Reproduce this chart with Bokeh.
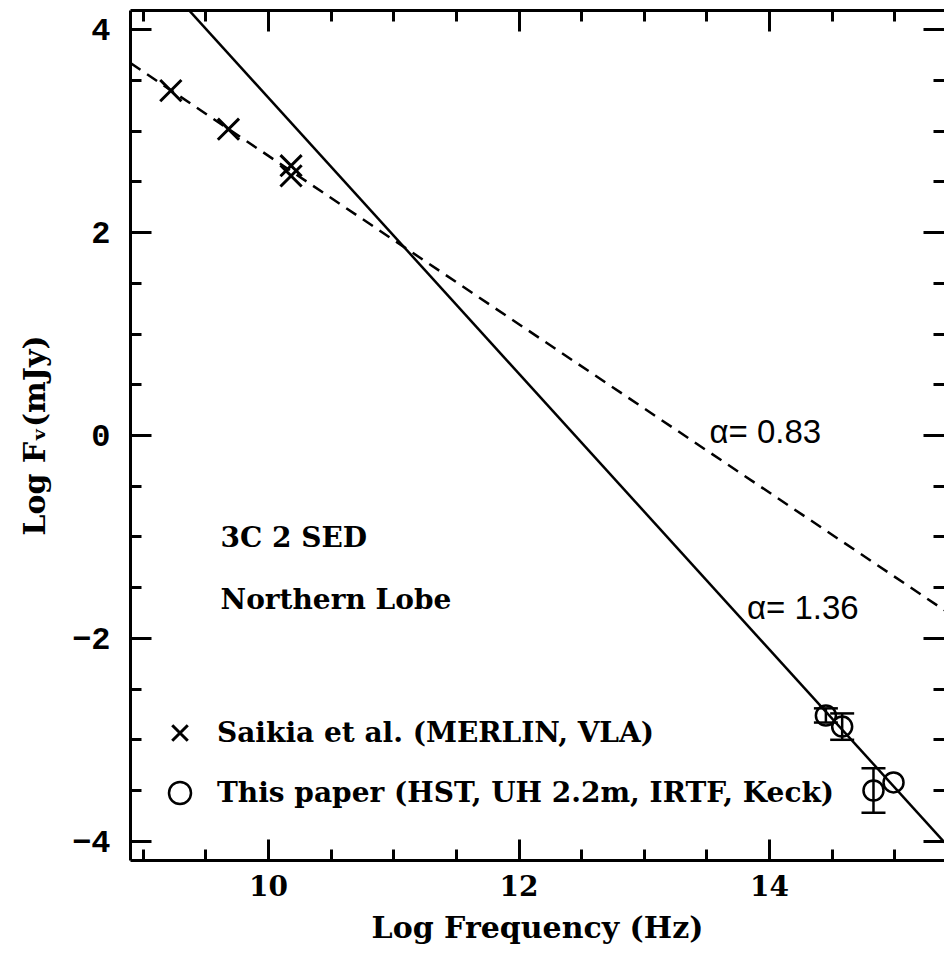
from bokeh.plotting import figure
from bokeh.models import (ColumnDataSource, LinearAxis, SingleIntervalTicker, Whisker,
                          TeeHead, Legend, LegendItem, Range1d, CustomJSTickFormatter)
from bokeh.core.properties import value
from bokeh.embed import file_html
from bokeh.resources import INLINE

# ---------------- data ----------------
saikia_logfreq = [9.22, 9.68, 10.18, 10.18]
saikia_logflux = [3.40, 3.02, 2.66, 2.56]

paper_logfreq = [14.45, 14.58, 14.83, 14.99]
paper_logflux = [-2.76, -2.87, -3.50, -3.42]
paper_err = [0.07, 0.13, 0.22, 0.0]

fit_alpha = [0.83, 1.36]          # dashed, solid
fit_pivot_x = 11.08
fit_pivot_y = 1.86

x_major = 2
y_major = 2
y_tick_labels = {-4: "\u22124", -2: "\u22122", 0: "0", 2: "2", 4: "4"}

# ---------------- layout constants ----------------
X0, X1 = 8.898, 15.397
Y0, Y1 = -4.19, 4.19
SERIF = "DejaVu Serif"
TXT = "28px"

p = figure(width=944, height=957, x_range=Range1d(X0, X1), y_range=Range1d(Y0, Y1),
           output_backend="svg", toolbar_location=None,
           min_border_left=130, min_border_top=10, min_border_right=0, min_border_bottom=97)
p.outline_line_color = None
p.xgrid.visible = False
p.ygrid.visible = False
p.background_fill_color = "white"
p.border_fill_color = "white"


def style_axis(ax, interval):
    ax.ticker = SingleIntervalTicker(interval=interval, num_minor_ticks=4)
    ax.axis_line_width = 3
    ax.axis_line_color = "black"
    ax.major_tick_in = 21
    ax.major_tick_out = 0
    ax.minor_tick_in = 11
    ax.minor_tick_out = 0
    ax.major_tick_line_width = 3
    ax.minor_tick_line_width = 3
    ax.major_tick_line_color = "black"
    ax.minor_tick_line_color = "black"
    ax.major_label_text_color = "black"
    ax.axis_label_text_color = "black"


xb = p.xaxis[0]
style_axis(xb, x_major)
xb.major_label_text_font = SERIF
xb.major_label_text_font_style = "bold"
xb.major_label_text_font_size = "28px"
xb.major_label_standoff = 14
xb.axis_label = "Log Frequency (Hz)"
xb.axis_label_text_font = SERIF
xb.axis_label_text_font_size = "30px"
xb.axis_label_text_font_style = "bold"
xb.axis_label_standoff = 11

yl = p.yaxis[0]
style_axis(yl, y_major)
yl.major_label_overrides = y_tick_labels
yl.major_label_text_font = "Liberation Mono"
yl.major_label_text_font_style = "bold"
yl.major_label_text_font_size = "32px"
yl.major_label_standoff = 20
yl.axis_label = "Log F\u1d65(mJy)"
yl.axis_label_text_font = SERIF
yl.axis_label_text_font_size = "30px"
yl.axis_label_text_font_style = "bold"
yl.axis_label_standoff = 17

for side, interval in (("above", x_major), ("right", y_major)):
    ax = LinearAxis(formatter=CustomJSTickFormatter(code="return ''"))
    style_axis(ax, interval)
    ax.major_label_text_font_size = "1px"
    ax.major_label_standoff = 0
    if side == "right":
        ax.axis_line_color = None
    p.add_layout(ax, side)

# ---------------- fitted power laws ----------------
line_x = [X0, X1]
styles = ["12 8", "solid"]
for a, dash in zip(fit_alpha, styles):
    ly = [fit_pivot_y - a * (x - fit_pivot_x) for x in line_x]
    p.line(line_x, ly, line_color="black", line_width=2.5, line_dash=dash)

# ---------------- data points ----------------
src_s = ColumnDataSource(dict(x=saikia_logfreq, y=saikia_logflux))
r_cross = p.scatter("x", "y", source=src_s, marker="x", size=30,
                    line_color="black", line_width=3)

src_p = ColumnDataSource(dict(x=paper_logfreq, y=paper_logflux))
r_circ = p.scatter("x", "y", source=src_p, marker="circle", size=20,
                   fill_color=None, line_color="black", line_width=2.5)

ex, eu, el = [], [], []
for x, y, e in zip(paper_logfreq, paper_logflux, paper_err):
    if e > 0:
        ex.append(x); eu.append(y + e); el.append(y - e)
src_e = ColumnDataSource(dict(base=ex, upper=eu, lower=el))
p.add_layout(Whisker(source=src_e, base="base", upper="upper", lower="lower",
                     dimension="height", line_color="black", line_width=2.5,
                     upper_head=TeeHead(size=24, line_width=2.5, line_color="black"),
                     lower_head=TeeHead(size=24, line_width=2.5, line_color="black")))

# ---------------- annotations ----------------
p.text(x=[9.617, 9.617], y=[-1.01, -1.62], text=["3C 2 SED", "Northern Lobe"],
       text_font=value(SERIF), text_font_size=value(TXT), text_font_style="bold",
       text_color="black", text_align="left", text_baseline="middle")
p.text(x=[13.52, 13.82], y=[0.044, -1.695],
       text=["\u03b1= %.2f" % fit_alpha[0], "\u03b1= %.2f" % fit_alpha[1]],
       text_font=value("Liberation Sans"), text_font_size=value("33px"), text_color="black",
       text_align="left", text_baseline="middle")

legend = Legend(items=[LegendItem(label="Saikia et al. (MERLIN, VLA)", renderers=[r_cross]),
                       LegendItem(label="This paper (HST, UH 2.2m, IRTF, Keck)", renderers=[r_circ])],
                location=(22, 40), glyph_width=55, glyph_height=55, spacing=5,
                label_standoff=10, padding=0, margin=0,
                border_line_color=None, background_fill_alpha=0,
                label_text_font=SERIF, label_text_font_size=TXT,
                label_text_font_style="bold", label_text_color="black")
p.add_layout(legend)

open("out.html", "w").write(file_html(p, INLINE))
